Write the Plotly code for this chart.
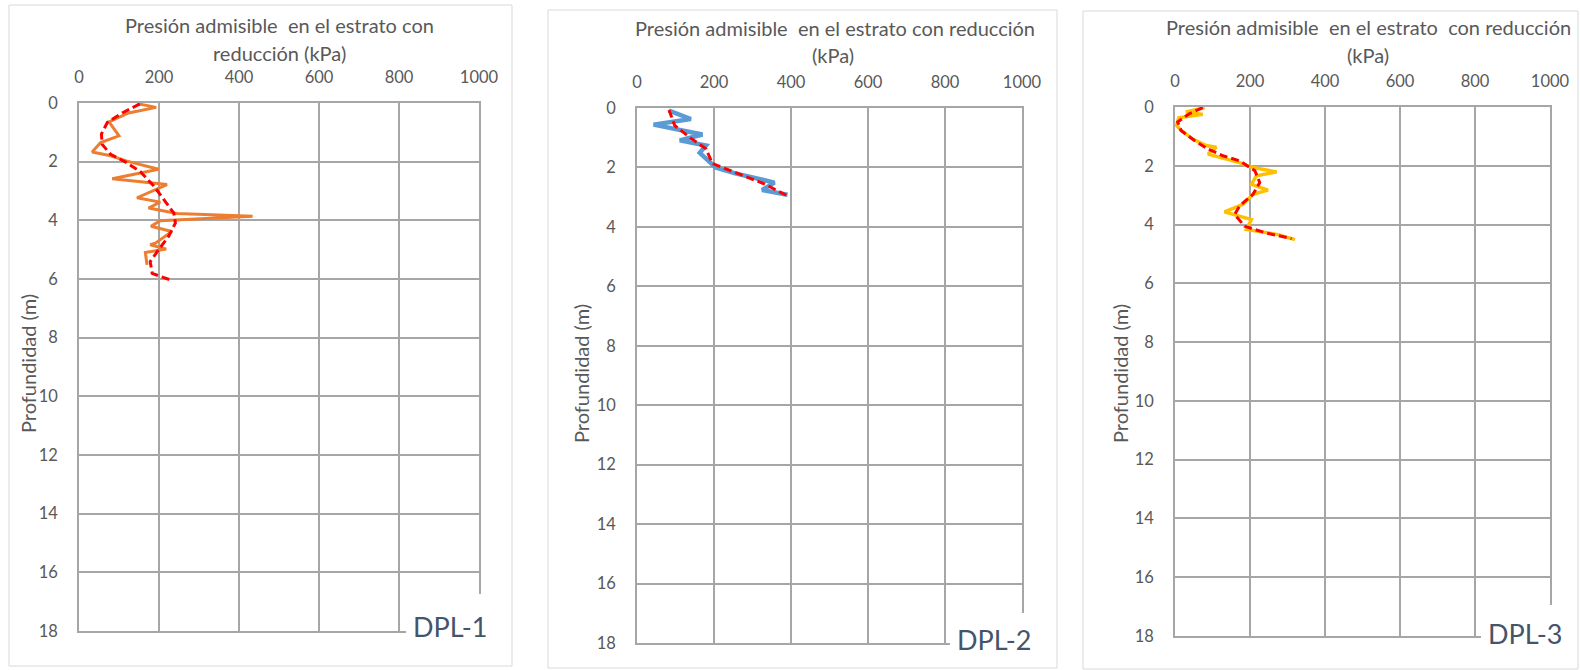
import plotly.graph_objects as go

W, H = 1580, 670

# ---------------- data ----------------
dpl1_kpa = [145, 193, 124, 75, 100, 54, 33, 79, 120, 199, 83, 220, 145, 203, 174, 245, 434, 203, 180, 232, 191, 178, 218, 166, 170]
dpl1_z = [0.02, 0.15, 0.34, 0.64, 1.12, 1.35, 1.67, 1.80, 1.98, 2.26, 2.58, 2.78, 3.23, 3.38, 3.58, 3.77, 3.86, 4.01, 4.20, 4.38, 4.78, 4.83, 4.98, 5.10, 5.52]
dpl1_trend_kpa = [152, 108, 71, 56, 58, 79, 116, 154, 187, 212, 237, 241, 224, 199, 178, 183, 228]
dpl1_trend_z = [0.03, 0.34, 0.66, 1.06, 1.41, 1.75, 2.01, 2.35, 2.83, 3.29, 3.75, 4.09, 4.55, 5.00, 5.41, 5.81, 6.03]

dpl2_kpa = [83, 140, 43, 170, 111, 179, 163, 187, 204, 255, 298, 357, 325, 391]
dpl2_z = [0.09, 0.37, 0.56, 0.89, 1.09, 1.26, 1.51, 1.81, 2.00, 2.20, 2.33, 2.51, 2.76, 2.92]
dpl2_trend_kpa = [83, 98, 136, 179, 196, 272, 332, 391]
dpl2_trend_z = [0.07, 0.59, 0.98, 1.37, 1.87, 2.26, 2.56, 2.96]

dpl3_kpa = [79, 29, 74, 10, 4, 12, 47, 83, 110, 88, 172, 208, 271, 217, 204, 248, 208, 181, 132, 204, 190, 275, 320]
dpl3_z = [0.02, 0.17, 0.25, 0.37, 0.63, 0.74, 1.09, 1.31, 1.37, 1.60, 1.89, 2.06, 2.21, 2.34, 2.63, 2.83, 2.97, 3.31, 3.57, 3.83, 4.17, 4.34, 4.51]
dpl3_trend_kpa = [74, 38, 7, 16, 52, 88, 128, 172, 213, 226, 208, 172, 159, 186, 244, 311]
dpl3_trend_z = [0.02, 0.23, 0.51, 0.80, 1.14, 1.43, 1.66, 1.83, 2.17, 2.57, 2.97, 3.37, 3.66, 4.06, 4.29, 4.48]

x_ticks = [0, 200, 400, 600, 800, 1000]
y_ticks = [0, 2, 4, 6, 8, 10, 12, 14, 16, 18]
labels = ["DPL-1", "DPL-2", "DPL-3"]
title_line1 = ["Presión admisible  en el estrato con",
               "Presión admisible  en el estrato con reducción",
               "Presión admisible  en el estrato  con reducción"]
title_line2 = ["reducción (kPa)", "(kPa)", "(kPa)"]
y_title = "Profundidad (m)"

# ---------------- layout helpers ----------------
def px(x):
    return x / W

def py(y):
    return 1 - y / H

# plot areas in pixels: (left, right, top, bottom)
areas = [(79, 479, 103, 631), (637, 1022, 108, 643), (1175, 1550, 107, 636)]
borders = [(9, 512, 5, 666), (548, 1057, 10, 668), (1083, 1578, 11, 669)]
label_boxes = [(406, 500, 594, 652), (950, 1040, 613, 660), (1481, 1570, 605, 655)]
title1_pos = [(279, 25), (835, 28), (1368, 27)]
title2_pos = [(279, 53), (833, 55), (1368, 55)]
ytitle_pos = [(28, 364), (581, 374), (1120, 374)]

FONT = "Lato"
TXT = "#595959"
GRID = "#A6A6A6"

series = [
    (dpl1_kpa, dpl1_z, dpl1_trend_kpa, dpl1_trend_z, "#ED7D31", 3),
    (dpl2_kpa, dpl2_z, dpl2_trend_kpa, dpl2_trend_z, "#5B9BD5", 4.5),
    (dpl3_kpa, dpl3_z, dpl3_trend_kpa, dpl3_trend_z, "#FFC000", 3.4),
]

fig = go.Figure()
shapes = []
annotations = []
layout = dict(
    width=W, height=H, autosize=False,
    margin=dict(l=0, r=0, t=0, b=0, pad=0, autoexpand=False),
    paper_bgcolor="white", plot_bgcolor="white", showlegend=False,
    font=dict(family=FONT, color=TXT),
)

for i, (xs, zs, txs, tzs, col, lw) in enumerate(series):
    n = "" if i == 0 else str(i + 1)
    fig.add_trace(go.Scatter(x=xs, y=zs, mode="lines", line=dict(color=col, width=lw),
                             xaxis="x" + n, yaxis="y" + n))
    fig.add_trace(go.Scatter(x=txs, y=tzs, mode="lines",
                             line=dict(color="#FF0000", width=3, dash="8px,4px"),
                             xaxis="x" + n, yaxis="y" + n))
    l, r, t, b = areas[i]
    layout["xaxis" + n] = dict(
        domain=[px(l), px(r)], anchor="y" + n, side="top", range=[0, 1000],
        tickvals=x_ticks, showgrid=True, gridcolor=GRID, gridwidth=1.5,
        showline=True, linecolor=GRID, linewidth=1.5, mirror=True, zeroline=False,
        automargin=False,
        ticks="", ticklabelstandoff=12, tickfont=dict(size=16.5, color=TXT, family=FONT),
    )
    layout["yaxis" + n] = dict(
        domain=[py(b), py(t)], anchor="x" + n, range=[18, 0],
        tickvals=y_ticks, showgrid=True, gridcolor=GRID, gridwidth=1.5,
        showline=True, linecolor=GRID, linewidth=1.5, mirror=True, zeroline=False,
        automargin=False,
        ticks="", ticklabelstandoff=16, tickfont=dict(size=16.5, color=TXT, family=FONT),
    )
    bl, br, bt, bb = borders[i]
    shapes.append(dict(type="rect", xref="paper", yref="paper", x0=px(bl), x1=px(br),
                       y0=py(bb), y1=py(bt), line=dict(color="#D9D9D9", width=1),
                       fillcolor="rgba(0,0,0,0)", layer="below"))
    ll, lr, lt, lb = label_boxes[i]
    shapes.append(dict(type="rect", xref="paper", yref="paper", x0=px(ll), x1=px(lr),
                       y0=py(lb), y1=py(lt), line=dict(width=0), fillcolor="white",
                       layer="above"))
    annotations.append(dict(text=labels[i], xref="paper", yref="paper",
                            x=px(ll + 5), y=py((lt + lb) / 2 + 3), xanchor="left", yanchor="middle",
                            showarrow=False, font=dict(size=27, color="#44546A", family=FONT)))
    for (tx, ty), txt in ((title1_pos[i], title_line1[i]), (title2_pos[i], title_line2[i])):
        annotations.append(dict(text=txt, xref="paper", yref="paper", x=px(tx), y=py(ty),
                                xanchor="center", yanchor="middle", showarrow=False,
                                font=dict(size=20, color=TXT, family=FONT)))
    yx, yy = ytitle_pos[i]
    annotations.append(dict(text=y_title, xref="paper", yref="paper", x=px(yx), y=py(yy),
                            xanchor="center", yanchor="middle", textangle=-90, showarrow=False,
                            font=dict(size=20, color=TXT, family=FONT)))

layout["shapes"] = shapes
layout["annotations"] = annotations
fig.update_layout(**layout)
fig.write_html("out.html")
